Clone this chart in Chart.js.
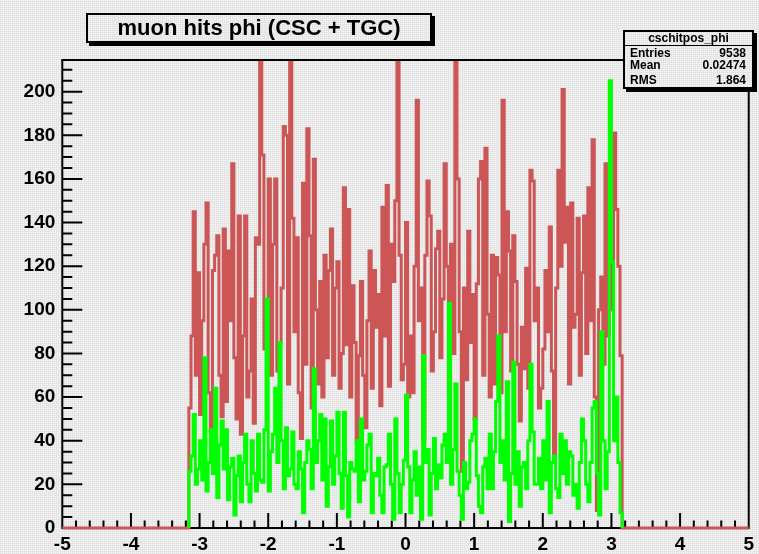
<!DOCTYPE html>
<html>
<head>
<meta charset="utf-8">
<title>muon hits phi</title>
<script src="https://cdn.jsdelivr.net/npm/chart.js@4.4.0/dist/chart.umd.min.js"></script>
<style>
  html, body { margin: 0; padding: 0; }
  body, .pave {
    background-color: #f4f4f4;
    background-image:
      repeating-linear-gradient(0deg, rgba(0,0,0,0.045) 0 1px, transparent 1px 2px),
      repeating-linear-gradient(90deg, rgba(0,0,0,0.045) 0 1px, transparent 1px 2px);
  }
  body { width: 759px; height: 554px; position: relative; overflow: hidden; }
  #plot { position: absolute; left: 0; top: 0; }
  .pave {
    position: absolute; box-sizing: border-box;
    border: 2px solid #000; box-shadow: 3px 3px 0 #000;
    font-family: 'Liberation Sans', Arial, sans-serif; color: #000;
  }
  #title {
    left: 86px; top: 13px; width: 346px; height: 30px;
    font-size: 22px; font-weight: bold; line-height: 26px; text-align: center;
  }
  #stats { left: 623px; top: 30px; width: 131px; height: 59px; font-size: 12px; font-weight: bold; }
  #stats .head { position: absolute; left: 0; right: 0; top: 0; height: 13px; line-height: 12px; text-align: center; border-bottom: 1px solid #000; }
  #stats .row { position: absolute; left: 5px; right: 6px; height: 13px; line-height: 13px; }
  #stats .row span:last-child { float: right; }
</style>
</head>
<body>
<canvas id="plot" width="759" height="554"></canvas>
<div class="pave" id="title">muon hits phi (CSC + TGC)</div>
<div class="pave" id="stats">
  <div class="head">cschitpos_phi</div>
  <div class="row" style="top:15px"><span>Entries</span><span>9538</span></div>
  <div class="row" style="top:27px"><span>Mean</span><span>0.02474</span></div>
  <div class="row" style="top:42px"><span>RMS</span><span>1.864</span></div>
</div>
<script>
// phi binning: 320 bins on [-5, 5], only -3.15625 .. 3.15625 is filled
const binLow = -3.15625
const binWidth = 0.03125

// CSC + TGC hits (red, drawn over the full axis range)
const cscTgcHits = [
  55, 88, 145, 70, 117, 52, 95, 130,
  149, 62, 44, 118, 125, 134, 70, 51,
  137, 58, 127, 95, 167, 78, 50, 143,
  43, 88, 143, 60, 72, 105, 48, 133,
  130, 220, 171, 82, 95, 160, 70, 130,
  160, 72, 85, 110, 184, 180, 66, 220,
  142, 90, 133, 62, 41, 158, 75, 183,
  134, 55, 169, 100, 66, 113, 60, 125,
  78, 118, 137, 70, 110, 122, 64, 80,
  156, 84, 146, 60, 111, 85, 40, 79,
  113, 70, 46, 95, 127, 64, 118, 92,
  107, 56, 147, 88, 157, 65, 130, 113,
  150, 220, 125, 68, 75, 140, 60, 88,
  62, 120, 196, 95, 110, 40, 125, 159,
  143, 72, 90, 128, 136, 78, 105, 167,
  120, 62, 130, 80, 220, 160, 90, 26,
  110, 68, 136, 85, 107, 50, 112, 160,
  168, 70, 174, 98, 60, 125, 66, 124,
  116, 62, 196, 90, 145, 127, 72, 134,
  113, 75, 49, 92, 73, 119, 64, 164,
  159, 95, 110, 55, 64, 82, 118, 90,
  138, 72, 30, 110, 164, 120, 201, 131,
  147, 66, 149, 92, 98, 142, 70, 117,
  143, 80, 156, 95, 178, 60, 8, 100,
  115, 75, 167, 88, 150, 100, 181, 146,
  120, 79
]

// cschitpos_phi (green)
const cscHits = [
  26, 33, 52, 20, 27, 40, 22, 78,
  17, 30, 45, 25, 64, 14, 38, 49,
  27, 45, 13, 28, 32, 6, 24, 33,
  12, 30, 43, 20, 12, 40, 25, 17,
  43, 22, 21, 45, 105, 17, 35, 43,
  64, 30, 85, 40, 18, 46, 24, 27,
  44, 20, 18, 35, 27, 7, 30, 40,
  36, 18, 73, 30, 40, 52, 22, 50,
  10, 28, 49, 20, 33, 53, 25, 9,
  53, 24, 5, 30, 27, 26, 40, 12,
  50, 22, 26, 38, 43, 7, 25, 24,
  32, 15, 7, 28, 29, 43, 20, 4,
  50, 25, 7, 20, 31, 61, 28, 7,
  22, 35, 15, 28, 4, 79, 30, 36,
  6, 25, 41, 18, 29, 23, 38, 43,
  30, 103, 20, 36, 66, 26, 15, 4,
  30, 18, 21, 40, 43, 50, 24, 10,
  7, 28, 32, 18, 43, 18, 35, 58,
  88, 30, 40, 22, 67, 3, 25, 76,
  20, 35, 10, 28, 30, 18, 40, 75,
  44, 20, 20, 32, 18, 40, 22, 58,
  7, 30, 33, 18, 14, 43, 25, 40,
  20, 35, 33, 15, 20, 9, 30, 50,
  40, 20, 12, 30, 55, 58, 25, 6,
  90, 40, 18, 35, 205, 122, 40, 60,
  30, 7
]

const xTicks = [-5, -4, -3, -2, -1, 0, 1, 2, 3, 4, 5]
const yTicks = [0, 20, 40, 60, 80, 100, 120, 140, 160, 180, 200]
const xMin = -5, xMax = 5
const yMax = 214.5

// outline of a histogram as step points: each point holds its value up to the next edge
function histPoints(values, fromX, toX) {
  const pts = [{x: fromX, y: 0}]
  for (let i = 0; i < values.length; i++) {
    pts.push({x: binLow + i * binWidth, y: values[i]})
  }
  pts.push({x: binLow + values.length * binWidth, y: 0})
  pts.push({x: toX, y: 0})
  return pts
}

const tickFont = {family: "'Liberation Sans', Arial, sans-serif", size: 19, weight: 'bold'}

// ROOT style frame: inward ticks, minor every 5 (y) and 0.2 (x)
const rootFrame = {
  id: 'rootFrame',
  beforeDatasetsDraw(chart) {
    const {ctx, chartArea: a, scales: {x, y}} = chart
    ctx.save()
    ctx.strokeStyle = '#000'
    ctx.lineWidth = 2
    ctx.beginPath()
    ctx.moveTo(a.left, a.top)
    ctx.lineTo(a.left, a.bottom)
    ctx.lineTo(a.right, a.bottom)
    ctx.lineTo(a.right, a.top)
    for (let v = 0; v <= yMax; v += 5) {
      const py = y.getPixelForValue(v)
      ctx.moveTo(a.left, py)
      ctx.lineTo(a.left + (v % 20 === 0 ? 20 : 10), py)
    }
    for (let i = 0; i <= 50; i++) {
      const px = x.getPixelForValue(xMin + i * 0.2)
      ctx.moveTo(px, a.bottom)
      ctx.lineTo(px, a.bottom - (i % 5 === 0 ? 15 : 7.5))
    }
    ctx.stroke()
    ctx.restore()
  },
  afterDatasetsDraw(chart) {
    const {ctx, chartArea: a} = chart
    ctx.save()
    ctx.strokeStyle = '#000'
    ctx.lineWidth = 2
    ctx.beginPath()
    ctx.moveTo(a.left - 1, a.top)
    ctx.lineTo(a.right + 1, a.top)
    ctx.stroke()
    ctx.restore()
  }
}

new Chart(document.getElementById('plot'), {
  type: 'line',
  data: {
    datasets: [
      {
        label: 'cschitpos_phi',
        data: histPoints(cscHits, binLow, binLow + cscHits.length * binWidth),
        borderColor: '#00ff00',
        borderWidth: 3,
        order: 0
      },
      {
        label: 'CSC + TGC',
        data: histPoints(cscTgcHits, xMin, xMax),
        borderColor: '#cc5555',
        borderWidth: 3,
        order: 1
      }
    ]
  },
  options: {
    responsive: false,
    animation: false,
    devicePixelRatio: 1,
    parsing: false,
    layout: { padding: { left: 0, right: 6.3, top: 60, bottom: 0 } },
    elements: {
      point: { radius: 0 },
      line: { stepped: true, tension: 0, fill: false, borderCapStyle: 'butt', borderJoinStyle: 'miter' }
    },
    datasets: { line: { clip: {left: 2, right: 2, top: 0, bottom: 3} } },
    scales: {
      x: {
        type: 'linear', min: xMin, max: xMax,
        afterFit(s) { s.height = 26 },
        afterBuildTicks(s) { s.ticks = xTicks.map(v => ({value: v})) },
        grid: { display: false, drawTicks: false },
        border: { display: false },
        ticks: { padding: 5, autoSkip: false, maxRotation: 0, color: '#000', font: tickFont }
      },
      y: {
        type: 'linear', min: 0, max: yMax,
        afterFit(s) { s.width = 62.3 },
        afterBuildTicks(s) { s.ticks = yTicks.map(v => ({value: v})) },
        grid: { display: false, drawTicks: false },
        border: { display: false },
        ticks: { padding: 7, color: '#000', font: tickFont }
      }
    },
    plugins: {
      legend: { display: false },
      tooltip: { enabled: false },
      title: { display: false }
    }
  },
  plugins: [rootFrame]
})
</script>
</body>
</html>
